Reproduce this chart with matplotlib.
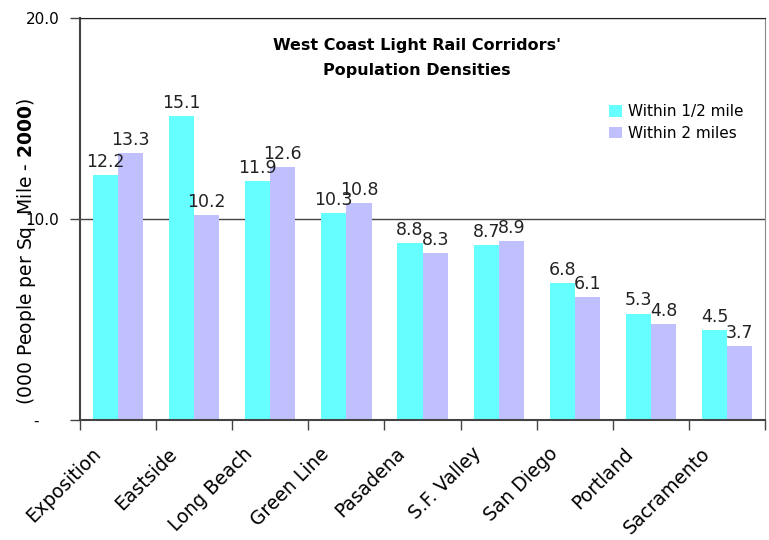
import numpy as np
import matplotlib.pyplot as plt
import matplotlib.transforms as mtransforms

plt.rcParams['font.family'] = 'DejaVu Sans'
plt.rcParams['mathtext.fontset'] = 'custom'
plt.rcParams['mathtext.rm'] = 'DejaVu Sans'
plt.rcParams['mathtext.bf'] = 'DejaVu Sans:bold'

corridors = ['Exposition', 'Eastside', 'Long Beach', 'Green Line', 'Pasadena',
             'S.F. Valley', 'San Diego', 'Portland', 'Sacramento']
half_mile = [12.2, 15.1, 11.9, 10.3, 8.8, 8.7, 6.8, 5.3, 4.5]
two_miles = [13.3, 10.2, 12.6, 10.8, 8.3, 8.9, 6.1, 4.8, 3.7]

c_half = '#66FFFF'
c_two = '#C0C0FF'

fig = plt.figure(figsize=(7.69, 5.40), dpi=100)
ax = fig.add_axes([0.104, 0.222, 0.891, 0.745])

x = np.arange(len(corridors))
w = 0.33
b1 = ax.bar(x - w/2, half_mile, w, color=c_half, label='Within 1/2 mile', zorder=2)
b2 = ax.bar(x + w/2, two_miles, w, color=c_two, label='Within 2 miles', zorder=2)

for bars, vals in ((b1, half_mile), (b2, two_miles)):
    for r, v in zip(bars, vals):
        ax.text(r.get_x() + r.get_width()/2, v + 0.2, f'{v:.1f}',
                ha='center', va='bottom', fontsize=12.5, color='#222222')

ax.set_xlim(-0.5, len(corridors) - 0.5)
ax.set_ylim(0, 20)
ax.set_yticks([0, 10, 20])
ax.set_yticklabels(['-    ', '10.0', '20.0'], fontsize=11)
ax.set_xticks(x)
ax.set_xticklabels([])
ax.tick_params(axis='x', which='major', length=0)
ax.set_xticks(np.arange(-0.5, len(corridors)), minor=True)
ax.tick_params(axis='x', which='minor', length=7, width=1, color='#444444')
ax.tick_params(axis='y', length=7, width=1, color='#444444', pad=8)

# category labels, rotated and anchored at their upper right end
lab_tr = (mtransforms.blended_transform_factory(ax.transData, ax.transAxes)
          + mtransforms.ScaledTranslation(-0.27, -0.24, fig.dpi_scale_trans))
for i, name in enumerate(corridors):
    ax.text(i, 0, name, transform=lab_tr, rotation=45, rotation_mode='anchor',
            ha='right', va='top', fontsize=13.5)

ax.grid(axis='y', color='#444444', linewidth=1, zorder=1)
ax.spines['left'].set_color('#444444')
ax.spines['left'].set_linewidth(1.5)
ax.spines['bottom'].set_color('#444444')
ax.spines['bottom'].set_linewidth(1.5)
ax.spines['top'].set_color('#222222')
ax.spines['right'].set_color('#888888')

ax.text(0.492, 0.95, "West Coast Light Rail Corridors'\nPopulation Densities",
        transform=ax.transAxes, ha='center', va='top', fontsize=11.5,
        fontweight='bold', linespacing=1.8)

ax.legend(loc='upper right', bbox_to_anchor=(0.988, 0.82), frameon=False,
          fontsize=11, handlelength=0.8, handleheight=0.8, handletextpad=0.4,
          labelspacing=0.45)

fig.text(0.035, 0.535, r'(000 People per Sq. Mile - $\mathbf{2000}$)',
         rotation=90, ha='center', va='center', fontsize=13.5)

fig.savefig('out.png', dpi=100)
